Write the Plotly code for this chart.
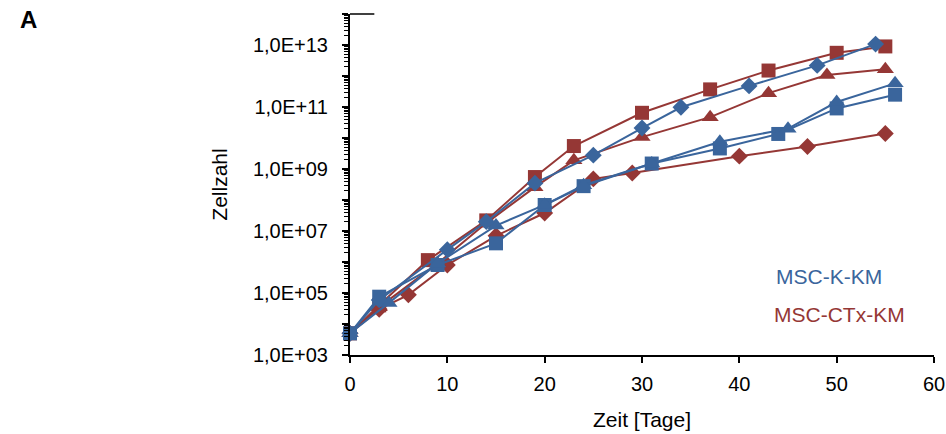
import plotly.graph_objects as go

BLUE = "#3A659C"
RED = "#953735"

# MSC-K-KM (blue)
k_dia_days = [0, 3, 10, 14, 19, 25, 30, 34, 41, 48, 54]
k_dia_vals = [5e3, 6e4, 2.5e6, 2e7, 3.5e8, 2.8e9, 2.1e10, 9.8e10, 4.8e11, 2.2e12, 1.07e13]
k_tri_days = [0, 4, 9, 15, 20, 24, 31, 38, 45, 50, 56]
k_tri_vals = [5e3, 4.8e4, 9e5, 1.5e7, 7e7, 3e8, 1.5e9, 7.6e9, 2e10, 1.45e11, 5.8e11]
k_sq_days = [0, 3, 9, 15, 20, 24, 31, 38, 44, 50, 56]
k_sq_vals = [5e3, 7.6e4, 8e5, 4e6, 6.9e7, 2.8e8, 1.5e9, 4.6e9, 1.35e10, 9e10, 2.5e11]

# MSC-CTx-KM (red)
c_sq_days = [0, 3, 8, 14, 19, 23, 30, 37, 43, 50, 55]
c_sq_vals = [5e3, 4e4, 1.15e6, 2.2e7, 5.5e8, 5.5e9, 6.5e10, 3.7e11, 1.5e12, 5.6e12, 9e12]
c_tri_days = [0, 3, 9, 14, 19, 23, 30, 37, 43, 49, 55]
c_tri_vals = [5e3, 3.5e4, 9e5, 1.8e7, 2.6e8, 1.9e9, 1.07e10, 4.7e10, 2.8e11, 1.07e12, 1.65e12]
c_dia_days = [0, 3, 6, 10, 15, 20, 25, 29, 40, 47, 55]
c_dia_vals = [5e3, 3e4, 8.7e4, 8e5, 7e6, 3.8e7, 4.8e8, 7.4e8, 2.6e9, 5.3e9, 1.4e10]

x_ticks = [0, 10, 20, 30, 40, 50, 60]
y_tick_exps = list(range(3, 15))
y_tick_text = [("1,0E+%02d" % e) if e % 2 == 1 and e <= 13 else "" for e in y_tick_exps]

fig = go.Figure()

def add(days, vals, color, symbol, size):
    fig.add_trace(go.Scatter(
        x=days, y=vals, mode="lines+markers",
        line=dict(color=color, width=2),
        marker=dict(color=color, symbol=symbol, size=size),
        showlegend=False, cliponaxis=False))

add(c_dia_days, c_dia_vals, RED, "diamond", 13)
add(c_tri_days, c_tri_vals, RED, "triangle-up", 15)
add(c_sq_days, c_sq_vals, RED, "square", 14)
add(k_sq_days, k_sq_vals, BLUE, "square", 14)
add(k_tri_days, k_tri_vals, BLUE, "triangle-up", 15)
add(k_dia_days, k_dia_vals, BLUE, "diamond", 13)

FAM = "Liberation Sans, Arial, sans-serif"
font = dict(family=FAM, size=20, color="black")

L, R, T, B = 350, 12, 14, 79
PW = 946 - L - R
PH = 434 - T - B

def px(x):
    return (x - L) / PW

def py(y):
    return (434 - B - y) / PH

fig.update_layout(
    width=946, height=434,
    margin=dict(l=L, r=R, t=T, b=B),
    paper_bgcolor="white", plot_bgcolor="white",
    font=font,
    xaxis=dict(range=[0, 60], tickvals=x_ticks, ticks="outside", ticklen=6,
               tickwidth=1.5, tickcolor="black", showline=True, linecolor="black",
               linewidth=2, showgrid=False, zeroline=False, automargin=False,
               ticklabelstandoff=4, tickfont=dict(size=20, family=FAM),
               title=dict(text="Zeit [Tage]", standoff=18,
                          font=dict(size=21, family=FAM, color="black"))),
    yaxis=dict(type="log", range=[3, 14],
               tickvals=[10 ** e for e in y_tick_exps], ticktext=y_tick_text,
               ticks="outside", ticklen=6, tickwidth=1.5, tickcolor="black",
               showline=True, linecolor="black", linewidth=2,
               showgrid=False, zeroline=False, automargin=False,
               ticklabelstandoff=10, tickfont=dict(size=20, family=FAM),
               minor=dict(ticks="outside", ticklen=4, tickcolor="black",
                          tickwidth=1, dtick="D1", showgrid=False),
               title=dict(text="Zellzahl", standoff=20,
                          font=dict(size=21, family=FAM, color="black"))),
)

fig.add_shape(type="line", xref="x", yref="paper", x0=0, x1=2.5, y0=1, y1=1,
              line=dict(color="black", width=1.5))

fig.add_annotation(text="<b>A</b>", xref="paper", yref="paper", x=px(28), y=py(20),
                   xanchor="center", yanchor="middle", showarrow=False,
                   font=dict(size=24, family=FAM))
fig.add_annotation(text="MSC-K-KM", xref="paper", yref="paper", x=px(774), y=py(276),
                   xanchor="left", yanchor="middle", showarrow=False,
                   font=dict(color=BLUE, size=21, family=FAM))
fig.add_annotation(text="MSC-CTx-KM", xref="paper", yref="paper", x=px(772), y=py(314),
                   xanchor="left", yanchor="middle", showarrow=False,
                   font=dict(color=RED, size=21, family=FAM))

fig.write_html("out.html")
